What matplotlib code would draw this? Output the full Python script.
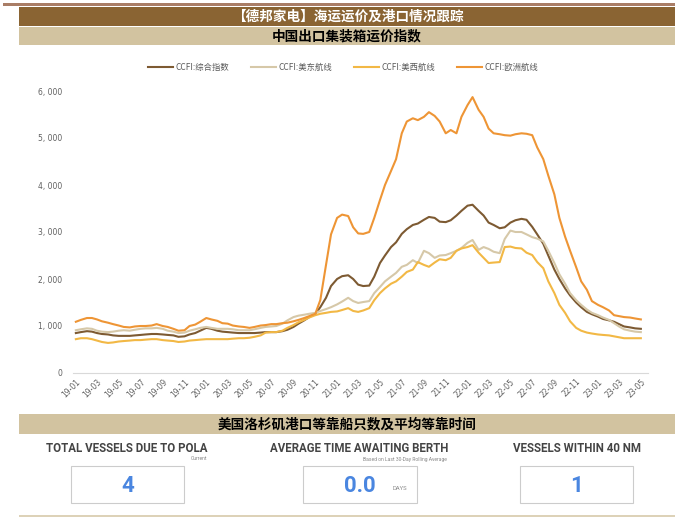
import numpy as np
import pandas as pd
import matplotlib
matplotlib.use('Agg')
import matplotlib.pyplot as plt
import matplotlib.dates as mdates
from matplotlib.patches import Rectangle
from matplotlib.ticker import FuncFormatter

#-------------------------------------------------------------------------------
#DATA (semi-monthly readings, 2019-01 to 2023-05)

dates = pd.date_range('2019-01-01', '2023-05-01', freq='SMS')

ccfi_all = [850, 870, 890, 880, 850, 830, 820, 800, 790, 790,
            790, 800, 810, 820, 830, 830, 820, 810, 800, 770,
            780, 820, 850, 900, 960, 940, 900, 880, 870, 860,
            850, 850, 850, 850, 860, 870, 870, 870, 890, 920,
            980, 1050, 1120, 1190, 1260, 1400, 1600, 1850, 2000, 2060,
            2080, 2000, 1880, 1850, 1860, 2050, 2340, 2500, 2680, 2780,
            2960, 3060, 3150, 3180, 3260, 3320, 3300, 3220, 3210, 3250,
            3350, 3450, 3560, 3580, 3450, 3350, 3200, 3150, 3080, 3100,
            3200, 3250, 3280, 3260, 3110, 2950, 2750, 2500, 2200, 2000,
            1800, 1650, 1500, 1400, 1300, 1250, 1200, 1150, 1120, 1090,
            1040, 990, 970, 950, 940]

ccfi_use = [910, 930, 950, 940, 900, 880, 870, 880, 900, 910,
            900, 920, 940, 950, 950, 960, 940, 900, 880, 850,
            860, 900, 930, 960, 980, 960, 940, 940, 940, 930,
            910, 910, 910, 930, 960, 980, 990, 1000, 1050, 1120,
            1190, 1220, 1240, 1260, 1280, 1320, 1360, 1400, 1460, 1520,
            1600, 1530, 1490, 1510, 1530, 1700, 1830, 1950, 2050, 2130,
            2260, 2300, 2400, 2340, 2600, 2550, 2450, 2500, 2510, 2550,
            2600, 2660, 2770, 2830, 2620, 2680, 2640, 2580, 2550, 2850,
            3030, 3000, 3000, 2950, 2890, 2860, 2800, 2600, 2340, 2100,
            1900, 1700, 1550, 1450, 1350, 1280, 1230, 1180, 1130, 1060,
            990, 930, 900, 880, 870]

ccfi_usw = [720, 740, 740, 720, 690, 660, 640, 650, 670, 680,
            690, 700, 700, 710, 720, 720, 700, 690, 680, 660,
            670, 690, 700, 710, 720, 720, 720, 720, 720, 730,
            740, 740, 750, 770, 800, 860, 870, 870, 900, 960,
            1020, 1080, 1130, 1180, 1230, 1260, 1280, 1300, 1310, 1340,
            1380, 1320, 1300, 1330, 1380, 1550, 1700, 1800, 1900, 1950,
            2050, 2150, 2200, 2360, 2300, 2260, 2350, 2420, 2400, 2450,
            2600, 2650, 2680, 2720, 2560, 2450, 2340, 2350, 2360, 2680,
            2690, 2660, 2650, 2560, 2510, 2360, 2230, 1950, 1700, 1450,
            1280, 1100, 960, 900, 860, 840, 820, 810, 800, 780,
            760, 740, 740, 740, 740]

ccfi_eu = [1090, 1130, 1170, 1170, 1140, 1100, 1070, 1040, 1010, 980,
           970, 990, 1000, 1000, 1010, 1040, 1000, 980, 940, 900,
           910, 1000, 1030, 1090, 1170, 1140, 1110, 1060, 1050, 1010,
           990, 980, 960, 980, 1010, 1020, 1040, 1040, 1060, 1070,
           1100, 1130, 1170, 1210, 1260, 1550, 2300, 2950, 3300, 3370,
           3340, 3100, 2970, 2960, 3000, 3300, 3680, 4000, 4300, 4550,
           5100, 5350, 5420, 5380, 5450, 5550, 5470, 5350, 5100, 5170,
           5100, 5450, 5700, 5870, 5600, 5450, 5200, 5100, 5080, 5060,
           5050, 5080, 5100, 5090, 5060, 4800, 4550, 4200, 3800, 3300,
           2900, 2600, 2250, 1950, 1770, 1530, 1450, 1400, 1330, 1230,
           1210, 1190, 1180, 1160, 1140]

names = ['CCFI:综合指数', 'CCFI:美东航线', 'CCFI:美西航线', 'CCFI:欧洲航线']
colors = ['#7d5a32', '#d6c8a8', '#f2b845', '#ee9535']

kpi_titles = ['TOTAL VESSELS DUE TO POLA', 'AVERAGE TIME AWAITING BERTH', 'VESSELS WITHIN 40 NM']
kpi_notes = ['Current', 'Based on Last 30-Day Rolling Average', '']
kpi_values = ['4', '0.0', '1']

#-------------------------------------------------------------------------------
#LAYOUT HELPERS (pixel coords, top-left origin)

W, H = 675, 517
fig = plt.figure(figsize=(W/100, H/100), dpi=100)
cjk = ['Noto Sans CJK SC', 'DejaVu Sans']

def box(x0, y0, x1, y1, fc, ec='none', lw=0):
    fig.patches.append(Rectangle((x0/W, 1-y1/H), (x1-x0)/W, (y1-y0)/H,
                                 transform=fig.transFigure, fc=fc, ec=ec, lw=lw))

def txt(x, y, s, **kw):
    fig.text(x/W, 1-y/H, s, **kw)

#header bands
box(3, 3, 675, 6, '#a97d66')
box(19, 7, 675, 26, '#8a6433')
box(19, 27, 675, 45, '#d2c3a0')
txt(348, 16.5, '【德邦家电】海运运价及港口情况跟踪', ha='center', va='center',
    color='white', fontsize=9.8, fontweight='bold', family=cjk)
txt(347, 36, '中国出口集装箱运价指数', ha='center', va='center',
    color='black', fontsize=9.8, fontweight='bold', family=cjk)

#-------------------------------------------------------------------------------
#CHART

ax = fig.add_axes([73/W, 1-373/H, (648-73)/W, (373-91)/H])
series = [ccfi_all, ccfi_use, ccfi_usw, ccfi_eu]
for vals, nm, c in zip(series, names, colors):
    ax.plot(dates, vals, color=c, lw=1.5, label=nm)

ax.set_ylim(0, 6000)
d0 = pd.Timestamp('2019-01-01')
ax.set_xlim(d0 - pd.Timedelta(days=8), d0 + pd.Timedelta(days=int(52.6*30.44)))
ax.set_yticks(np.arange(0, 6001, 1000))
ax.yaxis.set_major_formatter(FuncFormatter(lambda v, p: '{:,}'.format(int(v)).replace(',', ', ')))
ax.xaxis.set_major_locator(mdates.MonthLocator(bymonth=[1, 3, 5, 7, 9, 11]))
ax.xaxis.set_major_formatter(mdates.DateFormatter('%y-%m'))
ax.tick_params(axis='both', length=0, labelsize=5.5, labelcolor='#606060')
ax.tick_params(axis='y', pad=8)
ax.tick_params(axis='x', pad=3)
for lab in ax.get_xticklabels():
    lab.set_rotation(45)
    lab.set_ha('right')
    lab.set_rotation_mode('anchor')
for sp in ['top', 'right', 'left']:
    ax.spines[sp].set_visible(False)
ax.spines['bottom'].set_color('#d9d9d9')
ax.spines['bottom'].set_linewidth(0.8)

leg = fig.legend(loc='center', bbox_to_anchor=(343/W, 1-67/H), ncol=4, frameon=False,
                 prop={'family': cjk, 'size': 6}, handlelength=3.0,
                 columnspacing=2.6, handletextpad=0.3)
for t in leg.get_texts():
    t.set_color('#595959')

#-------------------------------------------------------------------------------
#LA PORT PANEL

box(19, 414, 675, 434, '#d2c3a0')
txt(347, 424, '美国洛杉矶港口等靠船只数及平均等靠时间', ha='center', va='center',
    color='black', fontsize=9.8, fontweight='bold', family=cjk)
box(19, 515, 675, 517, '#ddd2b8')

narrow = ['Liberation Sans Narrow', 'Roboto', 'DejaVu Sans']
centers = [127, 359, 577]
boxes = [(71, 184), (303, 417), (520, 633)]
note_right = [207, 447, 0]
for i in range(3):
    txt(centers[i], 449, kpi_titles[i], ha='center', va='center',
        color='#444444', fontsize=8.3, fontweight='bold', family=narrow)
    if kpi_notes[i]:
        txt(note_right[i], 459, kpi_notes[i], ha='right', va='center',
            color='#888888', fontsize=3.6, family=narrow)
    x0, x1 = boxes[i]
    box(x0, 466, x1, 503, 'white', ec='#cccccc', lw=0.8)
    txt((x0 + x1)/2, 485.5, kpi_values[i], ha='center', va='center',
        color='#4a86e0', fontsize=16, fontweight='bold', family=['Roboto', 'DejaVu Sans'])
txt(400, 489, 'DAYS', ha='center', va='center', color='#888888', fontsize=4.2, family=narrow)

fig.savefig('out.png', dpi=100)
